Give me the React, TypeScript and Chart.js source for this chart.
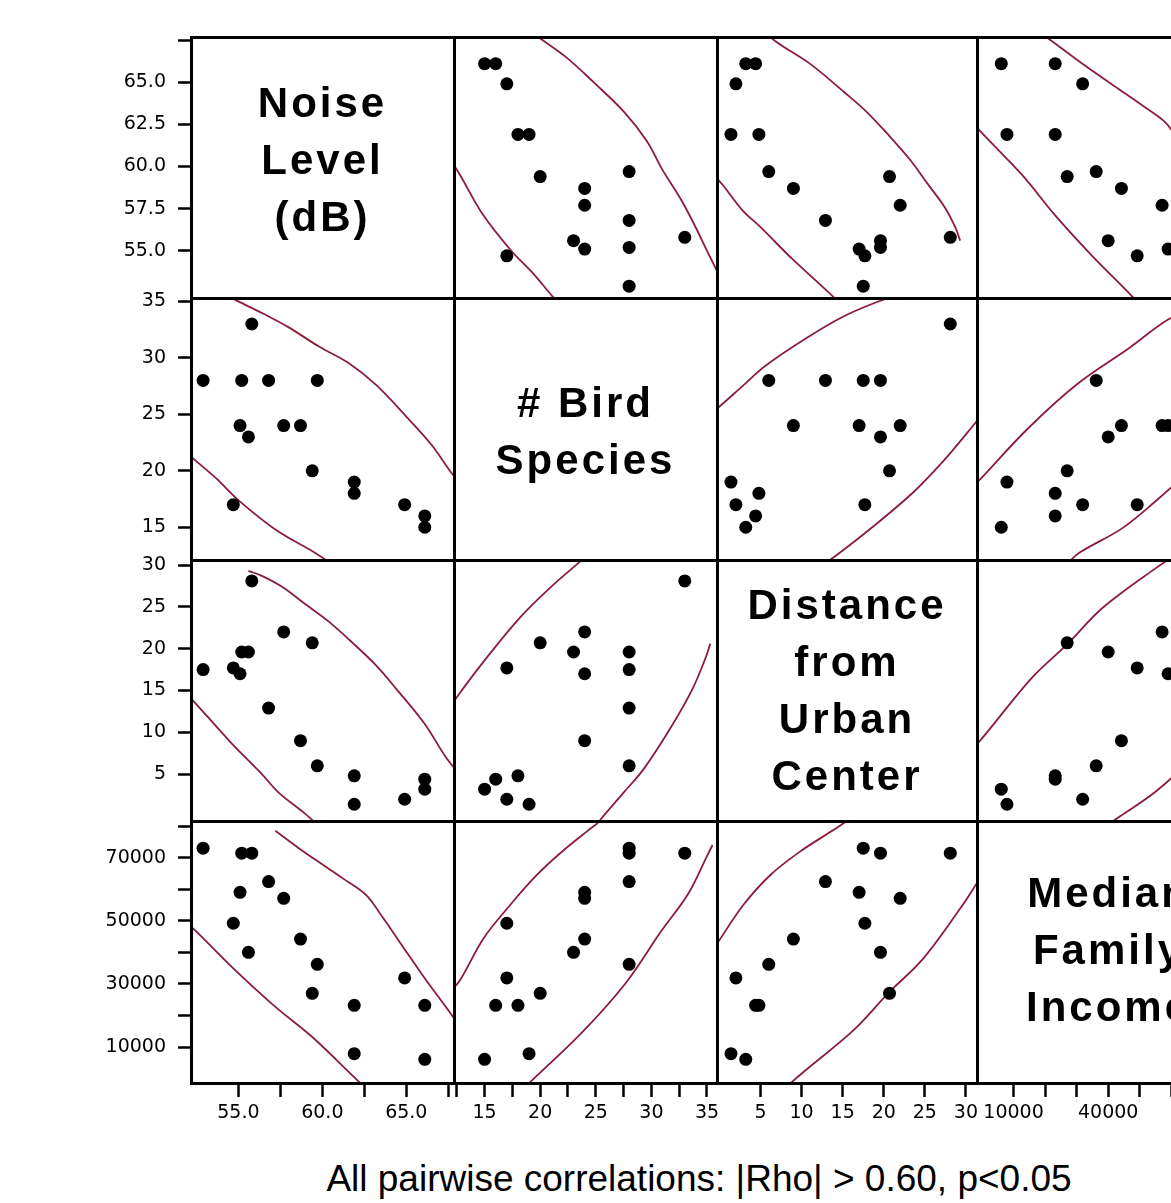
import React, { useEffect, useRef } from 'react';
import { Chart, registerables } from 'chart.js';
Chart.register(...registerables);

// ---- observations (one entry per site) ----
const noise = [55.8, 52.9, 55.2, 56.8, 59.7, 55.1, 55.6, 57.7, 58.7, 59.4, 61.9, 61.9, 54.7, 64.9, 66.1, 66.1];
const birds = [33, 28, 28, 28, 28, 24, 23, 24, 24, 20, 19, 18, 17, 17, 16, 15];
const distance = [28.1, 17.5, 19.6, 12.9, 6.0, 17.0, 19.6, 22.0, 9.0, 20.7, 1.4, 4.8, 17.7, 2.0, 4.4, 3.2];
const income = [71400, 73000, 71400, 62400, 36200, 59000, 40000, 57100, 44200, 27000, 7900, 23200, 49200, 31900, 23200, 6100];

// ---- variable names (diagonal) ----
const varNames = [
  ['Noise', 'Level', '(dB)'],
  ['# Bird', 'Species'],
  ['Distance', 'from', 'Urban', 'Center'],
  ['Median', 'Family', 'Income'],
];

// ---- axis ranges ----
const xRanges = [[52.18, 67.84], [12.25, 35.9], [-0.3, 31.35], [-1600, 81800]];
const yRanges = [[52.2, 67.68], [12.1, 35.3], [-0.6, 30.6], [-1400, 81600]];

// ---- tick values and labels ----
const xTickValues = [
  [55, 57.5, 60, 62.5, 65, 67.5],
  [12.5, 15, 17.5, 20, 22.5, 25, 27.5, 30, 32.5, 35],
  [5, 10, 15, 20, 25, 30],
  [10000, 20000, 30000, 40000, 50000, 60000, 70000],
];
const xTickLabels = [
  ['55.0', '', '60.0', '', '65.0', ''],
  ['', '15', '', '20', '', '25', '', '30', '', '35'],
  ['5', '10', '15', '20', '25', '30'],
  ['10000', '', '', '40000', '', '', '70000'],
];
const yTickValues = [
  [55, 57.5, 60, 62.5, 65, 67.5],
  [15, 20, 25, 30, 35],
  [5, 10, 15, 20, 25, 30],
  [10000, 20000, 30000, 40000, 50000, 60000, 70000, 80000],
];
const yTickLabels = [
  ['55.0', '57.5', '60.0', '62.5', '65.0', ''],
  ['15', '20', '25', '30', '35'],
  ['5', '10', '15', '20', '25', '30'],
  ['10000', '', '30000', '', '50000', '', '70000', ''],
];

// ---- density ellipse arcs, as [lower-index variable, higher-index variable] ----
const noiseBirdArcA = [[68.6, 18.3], [67.8, 19.6], [66.5, 22.3], [65.0, 24.8], [63.2, 27.6], [61.5, 29.6], [59.8, 31.0], [58.0, 32.7], [56.5, 33.9], [55.0, 35.0], [53.8, 35.9]];
const noiseBirdArcB = [[51.2, 22.6], [52.3, 21.1], [53.7, 19.3], [55.0, 17.4], [57.2, 14.8], [59.6, 12.7], [60.8, 11.5]];
const noiseDistArcA = [[68.6, 4.0], [67.4, 6.9], [66.1, 11.0], [64.4, 15.2], [63.2, 18.0], [61.8, 20.7], [60.4, 23.2], [59.0, 25.3], [57.6, 27.4], [56.4, 28.7], [55.6, 29.3]];
const noiseDistArcB = [[50.8, 17.0], [52.3, 13.8], [54.5, 8.9], [56.4, 5.0], [57.4, 2.8], [58.9, 0.4], [59.8, -1.2]];
const noiseIncomeArcA = [[57.2, 78500], [58.6, 73000], [59.9, 68200], [61.2, 63500], [62.6, 58200], [63.6, 51000], [64.6, 43300], [66.0, 32500], [67.5, 21650], [68.5, 14000]];
const noiseIncomeArcB = [[51.0, 53500], [52.3, 47600], [54.7, 34900], [57.1, 23200], [59.5, 12700], [62.2, -1100], [63.0, -4500]];
const birdDistArcA = [[11.5, 12.2], [12.5, 14.2], [15.0, 18.6], [18.1, 23.6], [20.9, 27.3], [23.4, 30.2], [25.0, 32.0]];
const birdDistArcB = [[24.5, -2.0], [25.5, -0.3], [27.5, 2.8], [29.3, 5.6], [31.8, 10.7], [33.7, 15.2], [34.9, 19.0], [35.3, 20.6]];
const birdIncomeArcA = [[11.8, 27000], [12.8, 31200], [14.9, 44400], [17.3, 55000], [19.7, 64500], [22.0, 72000], [24.2, 78300], [25.2, 81000]];
const birdIncomeArcB = [[18.3, -4000], [19.1, -1100], [23.7, 14400], [27.7, 30300], [30.9, 46800], [33.3, 58500], [35.0, 70500], [35.5, 74000]];
const distIncomeArcA = [[-1.5, 38000], [0.0, 43900], [2.9, 55000], [6.2, 64500], [9.8, 71900], [13.9, 78800], [16.0, 82500]];
const distIncomeArcB = [[8.0, -4000], [8.8, -1100], [16.4, 15500], [20.6, 27200], [24.8, 38000], [29.6, 55000], [31.6, 63000]];

const caption = 'All pairwise correlations: |Rho| > 0.60, p<0.05';

const pairArcs: Record<string, number[][][]> = {
  '0-1': [noiseBirdArcA, noiseBirdArcB],
  '0-2': [noiseDistArcA, noiseDistArcB],
  '0-3': [noiseIncomeArcA, noiseIncomeArcB],
  '1-2': [birdDistArcA, birdDistArcB],
  '1-3': [birdIncomeArcA, birdIncomeArcB],
  '2-3': [distIncomeArcA, distIncomeArcB],
};
const variables = [noise, birds, distance, income];

// ---- layout ----
const COL_EDGES = [191, 454, 717, 977, 1240];
const ROW_EDGES = [37, 298, 560, 821, 1083];
const AXIS_W = 91;
const AXIS_H = 46;
const M = 12;
const textTops = [74, 374, 576, 864];

function cellBox(r: number, c: number) {
  const left = COL_EDGES[c];
  const top = ROW_EDGES[r];
  const w = COL_EDGES[c + 1] - left;
  const h = ROW_EDGES[r + 1] - top;
  return {
    left, top, w, h,
    cl: c === 0 ? left - AXIS_W : left - M,
    ct: top - M,
    cw: w + M + (c === 0 ? AXIS_W : M),
    ch: h + M + (r === 3 ? AXIS_H : M),
  };
}

const tickFont = { family: "'DejaVu Sans', sans-serif", size: 19 };
const cells: [number, number][] = [];
for (let r = 0; r < 4; r++) for (let c = 0; c < 4; c++) cells.push([r, c]);

export default function App() {
  const refs = useRef<(HTMLCanvasElement | null)[]>([]);

  useEffect(() => {
    const charts: Chart[] = [];
    cells.forEach(([r, c], idx) => {
      const canvas = refs.current[idx];
      if (!canvas) return;
      const datasets: any[] = [];
      if (r !== c) {
        datasets.push({
          type: 'scatter',
          data: noise.map((_, k) => ({ x: variables[c][k], y: variables[r][k] })),
          pointRadius: 6.5,
          pointBackgroundColor: '#000',
          pointBorderWidth: 0,
          showLine: false,
          clip: 8,
          order: 0,
        });
        const lo = Math.min(r, c);
        const hi = Math.max(r, c);
        pairArcs[`${lo}-${hi}`].forEach((arc) => {
          datasets.push({
            type: 'scatter',
            data: arc.map(([a, b]) => (c === lo ? { x: a, y: b } : { x: b, y: a })),
            showLine: true,
            borderColor: 'rgb(140,28,58)',
            borderWidth: 1.8,
            pointRadius: 0,
            tension: 0.35,
            fill: false,
            clip: 0,
            order: 1,
          });
        });
      }
      const showY = c === 0;
      const showX = r === 3;
      const chart = new Chart(canvas, {
        type: 'scatter',
        data: { datasets },
        options: {
          animation: false,
          responsive: false,
          devicePixelRatio: 1,
          events: [],
          layout: {
            padding: { left: c === 0 ? 0 : M, top: M, right: M, bottom: r === 3 ? 0 : M },
          },
          plugins: { legend: { display: false }, tooltip: { enabled: false } },
          scales: {
            x: {
              type: 'linear',
              position: 'bottom',
              display: showX,
              min: xRanges[c][0],
              max: xRanges[c][1],
              afterBuildTicks: (s: any) => { s.ticks = xTickValues[c].map((v) => ({ value: v })); },
              afterFit: (s: any) => {
                if (!showX) return;
                s.height = AXIS_H; s.paddingLeft = 0; s.paddingRight = 0;
              },
              grid: { drawOnChartArea: false, drawTicks: true, tickLength: 14, tickColor: '#000', tickWidth: 2.5 },
              border: { display: false },
              ticks: {
                autoSkip: false, maxRotation: 0, padding: 5, color: '#000', font: tickFont,
                callback: (_v: any, i: number) => xTickLabels[c][i],
              },
            },
            y: {
              type: 'linear',
              position: 'left',
              display: showY,
              min: yRanges[r][0],
              max: yRanges[r][1],
              afterBuildTicks: (s: any) => { s.ticks = yTickValues[r].map((v) => ({ value: v })); },
              afterFit: (s: any) => {
                if (!showY) return;
                s.width = AXIS_W; s.paddingTop = 0; s.paddingBottom = 0;
              },
              grid: { drawOnChartArea: false, drawTicks: true, tickLength: 13, tickColor: '#000', tickWidth: 2.5 },
              border: { display: false },
              ticks: {
                autoSkip: false, padding: 12, color: '#000', font: tickFont,
                callback: (_v: any, i: number) => yTickLabels[r][i],
              },
            },
          },
        } as any,
      });
      charts.push(chart);
    });
    return () => charts.forEach((ch) => ch.destroy());
  }, []);

  const lineColor = '#000';
  const T = 3;

  return (
    <div style={{ position: 'absolute', left: 0, top: 0, width: 1171, height: 1203, overflow: 'hidden', background: '#fff' }}>
      {cells.map(([r, c], idx) => {
        const b = cellBox(r, c);
        return (
          <canvas
            key={idx}
            ref={(el) => { refs.current[idx] = el; }}
            width={b.cw}
            height={b.ch}
            style={{ position: 'absolute', left: b.cl, top: b.ct, width: b.cw, height: b.ch }}
          />
        );
      })}
      {COL_EDGES.map((x, i) => (
        <div key={'v' + i} style={{ position: 'absolute', left: x - T / 2, top: ROW_EDGES[0] - T / 2, width: T, height: ROW_EDGES[4] - ROW_EDGES[0] + T, background: lineColor }} />
      ))}
      {ROW_EDGES.map((y, i) => (
        <div key={'h' + i} style={{ position: 'absolute', left: COL_EDGES[0] - T / 2, top: y - T / 2, width: COL_EDGES[4] - COL_EDGES[0] + T, height: T, background: lineColor }} />
      ))}
      {varNames.map((lines, i) => {
        const b = cellBox(i, i);
        return (
          <div
            key={'n' + i}
            style={{
              position: 'absolute', left: b.left, top: textTops[i], width: b.w, textAlign: 'center',
              fontFamily: "'Liberation Sans', Arial, sans-serif", fontWeight: 'bold', fontSize: 42,
              lineHeight: '57px', letterSpacing: 3, color: '#000', whiteSpace: 'nowrap',
            }}
          >
            {lines.map((t, j) => <div key={j}>{t}</div>)}
          </div>
        );
      })}
      <div
        style={{
          position: 'absolute', left: 0, width: 1398, top: 1159, textAlign: 'center',
          fontFamily: "'Liberation Sans', Arial, sans-serif", fontSize: 37, lineHeight: '40px', color: '#000', whiteSpace: 'nowrap',
        }}
      >
        {caption}
      </div>
    </div>
  );
}
